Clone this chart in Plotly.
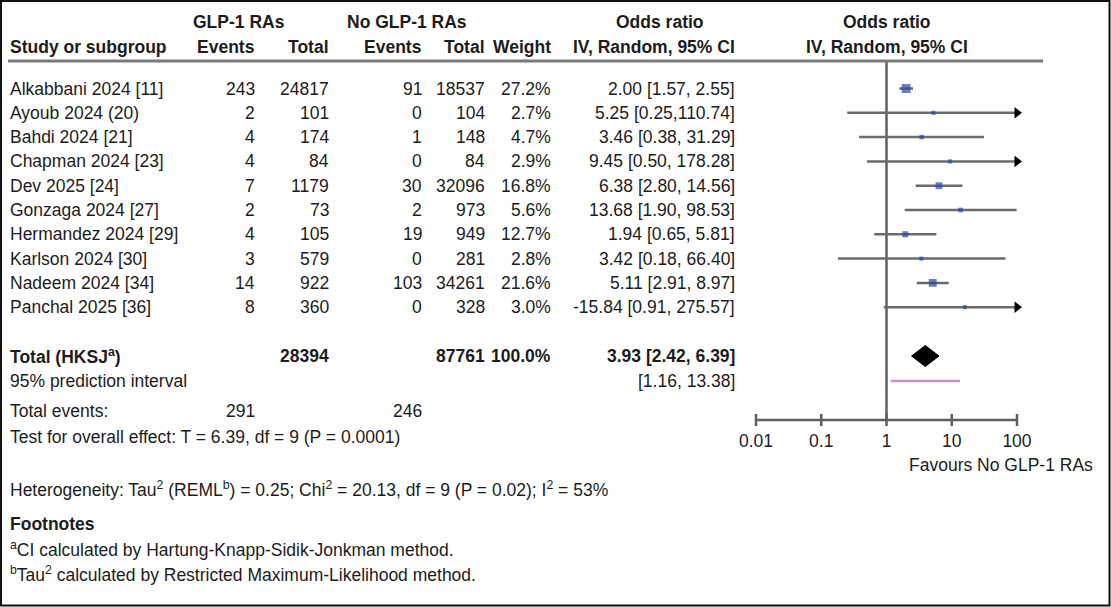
import math
import plotly.graph_objects as go

W, H = 1111, 607

# ---------------- data ----------------
studies = ["Alkabbani 2024 [11]", "Ayoub 2024 (20)", "Bahdi 2024 [21]", "Chapman 2024 [23]",
           "Dev 2025 [24]", "Gonzaga 2024 [27]", "Hermandez 2024 [29]", "Karlson 2024 [30]",
           "Nadeem 2024 [34]", "Panchal 2025 [36]"]
glp_events = [243, 2, 4, 4, 7, 2, 4, 3, 14, 8]
glp_total = [24817, 101, 174, 84, 1179, 73, 105, 579, 922, 360]
no_events = [91, 0, 1, 0, 30, 2, 19, 0, 103, 0]
no_total = [18537, 104, 148, 84, 32096, 973, 949, 281, 34261, 328]
weights = [27.2, 2.7, 4.7, 2.9, 16.8, 5.6, 12.7, 2.8, 21.6, 3.0]
or_est = [2.00, 5.25, 3.46, 9.45, 6.38, 13.68, 1.94, 3.42, 5.11, 15.84]
ci_lo = [1.57, 0.25, 0.38, 0.50, 2.80, 1.90, 0.65, 0.18, 2.91, 0.91]
ci_hi = [2.55, 110.74, 31.29, 178.28, 14.56, 98.53, 5.81, 66.40, 8.97, 275.57]
or_labels = ["2.00 [1.57, 2.55]", "5.25 [0.25,110.74]", "3.46 [0.38, 31.29]",
             "9.45 [0.50, 178.28]", "6.38 [2.80, 14.56]", "13.68 [1.90, 98.53]",
             "1.94 [0.65, 5.81]", "3.42 [0.18, 66.40]", "5.11 [2.91, 8.97]",
             "-15.84 [0.91, 275.57]"]

total_glp = 28394
total_no = 87761
events_glp = 291
events_no = 246
pooled = [2.42, 3.93, 6.39]
pooled_label = "3.93 [2.42, 6.39]"
pred_int = [1.16, 13.38]
pred_label = "[1.16, 13.38]"
axis_ticks = [0.01, 0.1, 1, 10, 100]
tick_labels = ["0.01", "0.1", "1", "10", "100"]

# ---------------- layout constants ----------------
FONT = "Liberation Sans, Arial, sans-serif"
FS = 17.5
TXT = "#1c1c1c"
LINE = "#5f5f5f"
BLUE = "#2c47a3"

PX_LO, PX_DEC = 756, 65.25  # pixel of 0.01 and pixels per decade
xr = [-2 - PX_LO / PX_DEC, -2 + (W - PX_LO) / PX_DEC]

row_y = [88.5 + 24.3 * i for i in range(len(studies))]
Y_TOTAL, Y_PI, Y_EV, Y_TEST = 356, 381, 411, 437
Y_AXIS, Y_TICKLAB, Y_FAV = 420, 443, 465
Y_HDR1, Y_HDR2, Y_HLINE = 22, 47, 61

COL = dict(study=8, ge=257, gt=331, ne=424, nt=487, w=553, orr=737)
XMAX = axis_ticks[-1]

fig = go.Figure()


def txt(x, y, s, anchor="left", bold=False, size=FS):
    if bold:
        s = "<b>" + s + "</b>"
    fig.add_annotation(x=x / W, xref="paper", y=y, yref="y", text=s, showarrow=False,
                       xanchor=anchor, yanchor="middle",
                       font=dict(family=FONT, size=size, color=TXT))


# header
txt(239, Y_HDR1, "GLP-1 RAs", "center", True)
txt(407, Y_HDR1, "No GLP-1 RAs", "center", True)
txt(660, Y_HDR1, "Odds ratio", "center", True)
txt(887, Y_HDR1, "Odds ratio", "center", True)
txt(COL["study"], Y_HDR2, "Study or subgroup", "left", True)
txt(COL["ge"], Y_HDR2, "Events", "right", True)
txt(COL["gt"], Y_HDR2, "Total", "right", True)
txt(COL["ne"], Y_HDR2, "Events", "right", True)
txt(COL["nt"], Y_HDR2, "Total", "right", True)
txt(COL["w"], Y_HDR2, "Weight", "right", True)
txt(COL["orr"], Y_HDR2, "IV, Random, 95% CI", "right", True)
txt(887, Y_HDR2, "IV, Random, 95% CI", "center", True)

# study rows
for i, y in enumerate(row_y):
    txt(COL["study"], y, studies[i])
    txt(COL["ge"], y, str(glp_events[i]), "right")
    txt(COL["gt"], y, str(glp_total[i]), "right")
    txt(COL["ne"], y, str(no_events[i]), "right")
    txt(COL["nt"], y, str(no_total[i]), "right")
    txt(COL["w"], y, f"{weights[i]:.1f}%", "right")
    txt(COL["orr"], y, or_labels[i], "right")

# totals
txt(COL["study"], Y_TOTAL, "Total (HKSJ<sup>a</sup>)", "left", True)
txt(COL["gt"], Y_TOTAL, str(total_glp), "right", True)
txt(COL["nt"], Y_TOTAL, str(total_no), "right", True)
txt(COL["w"], Y_TOTAL, f"{sum(weights):.1f}%", "right", True)
txt(COL["orr"], Y_TOTAL, pooled_label, "right", True)
txt(COL["study"], Y_PI, "95% prediction interval")
txt(COL["orr"], Y_PI, pred_label, "right")
txt(COL["study"], Y_EV, "Total events:")
txt(COL["ge"], Y_EV, str(events_glp), "right")
txt(COL["ne"], Y_EV, str(events_no), "right")
txt(COL["study"], Y_TEST, "Test for overall effect: T = 6.39, df = 9 (P = 0.0001)")
txt(COL["study"], 489, "Heterogeneity: Tau<sup>2</sup> (REML<sup>b</sup>) = 0.25; Chi<sup>2</sup> = 20.13, df = 9 (P = 0.02); I<sup>2</sup> = 53%")
txt(COL["study"], 524, "Footnotes", "left", True)
txt(COL["study"], 549, "<sup>a</sup>CI calculated by Hartung-Knapp-Sidik-Jonkman method.")
txt(COL["study"], 574, "<sup>b</sup>Tau<sup>2</sup> calculated by Restricted Maximum-Likelihood method.")

# ---------------- forest plot marks ----------------
# vertical line of no effect
fig.add_trace(go.Scatter(x=[1, 1], y=[Y_HLINE, Y_AXIS], mode="lines",
                         line=dict(color=LINE, width=2.5), hoverinfo="skip"))
# CI lines
cx, cy = [], []
for i, y in enumerate(row_y):
    cx += [ci_lo[i], min(ci_hi[i], XMAX), None]
    cy += [y, y, None]
fig.add_trace(go.Scatter(x=cx, y=cy, mode="lines", line=dict(color="#6a6a6a", width=2.5),
                         hoverinfo="skip"))
# arrows where CI exceeds axis
ax_y = [row_y[i] for i in range(len(studies)) if ci_hi[i] > XMAX]
fig.add_trace(go.Scatter(x=[XMAX] * len(ax_y), y=ax_y, mode="markers", cliponaxis=False,
                         marker=dict(symbol="triangle-right", size=10, color="black"),
                         hoverinfo="skip"))
# squares
fig.add_trace(go.Scatter(x=or_est, y=row_y, mode="markers", cliponaxis=False,
                         marker=dict(symbol="square", color=BLUE,
                                     size=[3.5 + 0.2 * w for w in weights], line=dict(width=0)),
                         hoverinfo="skip"))
# pooled diamond
fig.add_trace(go.Scatter(x=[pooled[0], pooled[1], pooled[2], pooled[1], pooled[0]],
                         y=[Y_TOTAL, Y_TOTAL - 10.5, Y_TOTAL, Y_TOTAL + 10.5, Y_TOTAL],
                         mode="lines", fill="toself", fillcolor="black",
                         line=dict(color="black", width=1), hoverinfo="skip"))
# prediction interval
fig.add_trace(go.Scatter(x=pred_int, y=[Y_PI, Y_PI], mode="lines",
                         line=dict(color="#cf8fcf", width=2.5), hoverinfo="skip"))
# axis line + ticks
axx = [axis_ticks[0], axis_ticks[-1], None]
axy = [Y_AXIS, Y_AXIS, None]
for t in axis_ticks:
    axx += [t, t, None]
    axy += [Y_AXIS - 6, Y_AXIS + 6, None]
fig.add_trace(go.Scatter(x=axx, y=axy, mode="lines", line=dict(color=LINE, width=2.5),
                         hoverinfo="skip"))
fig.add_trace(go.Scatter(x=axis_ticks, y=[Y_TICKLAB] * len(axis_ticks), mode="text",
                         text=tick_labels, textposition="middle center", cliponaxis=False,
                         textfont=dict(family=FONT, size=FS, color=TXT), hoverinfo="skip"))
txt(1001, Y_FAV, "Favours No GLP-1 RAs", "center")

# header rule and border
fig.add_shape(type="line", xref="paper", yref="y", x0=8 / W, x1=1043 / W, y0=Y_HLINE, y1=Y_HLINE,
              line=dict(color="#7a7a7a", width=3))
fig.add_shape(type="rect", xref="paper", yref="y", x0=1 / W, x1=1109.5 / W, y0=1, y1=605.5,
              line=dict(color="#111", width=2))

fig.update_layout(
    width=W, height=H, autosize=False, showlegend=False,
    margin=dict(l=0, r=0, t=0, b=0),
    paper_bgcolor="white", plot_bgcolor="white",
    xaxis=dict(type="log", range=xr, domain=[0, 1], visible=False, fixedrange=True),
    yaxis=dict(range=[H, 0], domain=[0, 1], visible=False, fixedrange=True),
)

fig.write_html("out.html")
